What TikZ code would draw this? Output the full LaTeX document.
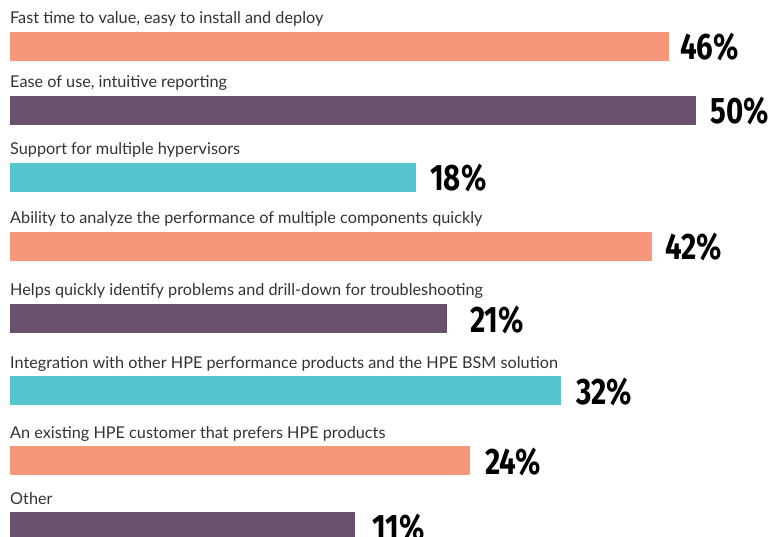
\documentclass[tikz,border=0pt]{standalone}
\usepackage{fontspec}
\usepackage{graphicx}
\setmainfont{Lato}
\newfontfamily\pctfont{Fira Sans}
\definecolor{barorange}{HTML}{F7977A}
\definecolor{barpurple}{HTML}{68516D}
\definecolor{barteal}{HTML}{56C5D0}
\definecolor{labelgray}{HTML}{333333}
\tikzset{
  barlabel/.style={anchor=base west, inner sep=0pt, text=labelgray, font=\fontsize{16.3}{18}\selectfont},
  pctlabel/.style={anchor=base west, inner sep=0pt, text=black, font=\pctfont\bfseries\fontsize{37}{40}\selectfont}
}

\begin{document}
\begin{tikzpicture}[x=1bp,y=-1bp]
\useasboundingbox (0,0) rectangle (769,537);
\foreach \n/\ytop/\xend/\col/\pct/\px/\txt in {
  1/32/669/barorange/46/680/{Fast time to value, easy to install and deploy},
  2/96/696/barpurple/50/710/{Ease of use, intuitive reporting},
  3/163/416/barteal/18/430/{Support for multiple hypervisors},
  4/232/652/barorange/42/665/{Ability to analyze the performance of multiple components quickly},
  5/304/447/barpurple/21/470/{Helps quickly identify problems and drill-down for troubleshooting},
  6/376/561/barteal/32/576/{Integration with other HPE performance products and the HPE BSM solution},
  7/446/470/barorange/24/485/{An existing HPE customer that prefers HPE products},
  8/512/355/barpurple/11/372/{Other}}
{
  \fill [\col] (10,\ytop) rectangle (\xend,\ytop+29);
  \node [barlabel] (lab\n) at (10,\ytop-8) {\txt};
  \node [pctlabel] (pct\n) at (\px,\ytop+28) {\scalebox{0.8}[1]{\pct\%}};
}
\end{tikzpicture}
\end{document}
